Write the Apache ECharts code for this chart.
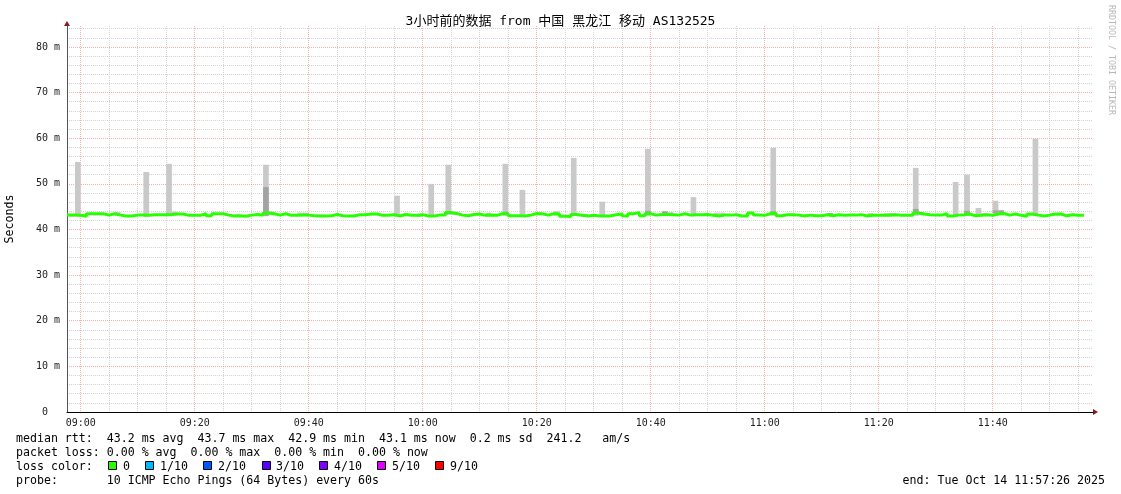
<!DOCTYPE html>
<html><head><meta charset="utf-8">
<script src="https://cdn.jsdelivr.net/npm/echarts@6/dist/echarts.min.js"></script>
<style>html,body{margin:0;padding:0;background:#fff}#c{width:1121px;height:494px}</style>
</head><body><div id="c"></div>
<script>
// time in minutes after 09:00; each bucket covers [t-1, t]
const X_MIN = -2.4, X_MAX = 177.6, Y_MAX = 84.6;
const FIRST_BUCKET_END = -2;
const medianRtt = [
  43.15,43.15,43.1,42.9,43.45,43.45,43.45,43.15,43.45,43.15,
  42.95,42.95,43.15,43.15,43.1,43.25,43.25,43.25,43.3,43.4,
  43.4,43.1,43.1,43.1,43.45,43.0,43.45,43.45,43.15,42.95,
  43.0,42.9,43.15,43.3,43.15,43.6,43.45,43.15,43.45,43.1,
  43.1,43.15,43.15,43.0,42.95,42.95,43.0,43.3,43.0,42.95,
  42.95,43.25,43.25,43.4,43.4,43.1,43.1,43.25,42.95,43.3,
  43.1,43.1,43.25,42.95,42.95,43.15,43.15,43.7,43.5,43.15,
  43.0,43.3,43.4,43.1,43.15,43.1,43.45,43.45,43.0,43.0,
  42.95,43.15,43.5,43.45,43.15,43.45,43.4,42.9,42.85,43.3,
  43.1,42.95,43.1,42.95,42.95,43.0,43.25,43.4,42.95,43.45,
  43.7,43.0,43.45,43.15,43.3,43.3,43.25,43.15,43.45,43.15,
  43.25,43.25,43.3,43.1,42.95,43.15,43.15,43.25,42.95,42.95,
  43.6,43.15,43.1,43.45,43.6,43.0,43.25,43.25,43.15,42.95,
  43.15,43.0,43.0,43.25,43.0,43.25,43.1,43.15,43.15,43.25,
  42.95,43.1,43.1,43.1,43.1,43.25,43.1,43.1,43.1,43.6,
  43.4,43.25,43.15,43.15,43.45,42.95,43.15,43.25,43.4,43.0,
  43.1,43.25,43.1,43.4,43.5,43.15,43.4,43.1,42.9,43.4,
  43.15,42.95,43.15,43.4,43.4,43.0,43.25,43.1,43.1
];
// [bucket end, min ping, max ping]
const smokeBands = [
  [-1,42.8,43.4],[0,42.85,54.8],[7,43.0,43.8],[12,42.7,52.6],[16,42.9,54.4],[17,43.1,43.9],
  [28,42.8,43.3],[33,42.9,54.2],[34,43.1,43.9],[39,42.9,43.7],[40,42.9,43.7],[42,42.8,43.3],
  [43,42.8,43.3],[51,43.1,43.6],[52,43.1,43.6],[56,42.8,47.4],[60,42.75,43.4],[62,42.8,50.0],
  [65,43.2,54.2],[66,43.2,43.9],[72,42.9,43.7],[75,43.0,54.4],[78,42.8,48.7],[84,43.1,44.0],
  [87,43.0,55.7],[88,42.9,43.4],[89,42.8,43.4],[92,42.75,46.1],[100,43.0,57.7],[104,43.1,43.8],
  [108,42.9,47.1],[112,42.8,43.7],[113,42.9,43.7],[122,43.0,57.9],[124,43.0,43.4],[125,43.0,43.4],
  [128,42.9,43.4],[139,42.9,43.6],[142,42.9,43.6],[143,42.9,43.6],[147,43.0,53.5],[148,43.1,43.8],
  [154,42.9,50.4],[156,42.9,52.0],[158,42.9,44.7],[159,42.9,43.6],[161,43.0,46.3],[162,43.2,44.2],
  [167,43.0,43.6],[168,42.9,59.9],[171,43.0,43.6],[172,43.0,43.6]
];
// inner (darker) smoke bands
const darkBands = [
  [33,43.0,49.3],[75,43.3,43.9],[100,43.4,44.1],[103,43.5,44.0],[122,43.4,44.0],
  [132,43.2,43.6],[147,43.3,44.5],[156,43.3,44.1],[161,43.6,44.2],[162,43.5,44.2]
];
const xMajorTicks = [0,20,40,60,80,100,120,140,160];
const xTickLabels = ['09:00','09:20','09:40','10:00','10:20','10:40','11:00','11:20','11:40'];
const xMinorTicks = [5,10,15,25,30,35,45,50,55,65,70,75,85,90,95,105,110,115,125,130,135,145,150,155,165,170,175];
const yMajorTicks = [0,10,20,30,40,50,60,70,80];
const yMinorTicks = [2,4,6,8,12,14,16,18,22,24,26,28,32,34,36,38,42,44,46,48,52,54,56,58,62,64,66,68,72,74,76,78,82,84];

const titleText = '3小时前的数据 from 中国 黑龙江 移动 AS132525';
const statLines = [
  'median rtt:  43.2 ms avg  43.7 ms max  42.9 ms min  43.1 ms now  0.2 ms sd  241.2   am/s',
  'packet loss: 0.00 % avg  0.00 % max  0.00 % min  0.00 % now',
  'loss color:',
  'probe:       10 ICMP Echo Pings (64 Bytes) every 60s'
];
const lossLabels = ['0','1/10','2/10','3/10','4/10','5/10','9/10'];
const lossColors = ['#26ff00','#00b8ff','#0059ff','#5e00ff','#7e00ff','#dd00ff','#ff0000'];
const endText = 'end: Tue Oct 14 11:57:26 2025';

const MONO = "'DejaVu Sans Mono','Noto Sans CJK SC',monospace";
const chart = echarts.init(document.getElementById('c'), null, {renderer:'canvas'});

function bandRenderer(color){
  return function(params, api){
    const t = api.value(0), lo = api.value(1), hi = api.value(2);
    const a = api.coord([t-1, hi]), b = api.coord([t, lo]);
    return {type:'rect', shape:{x:a[0], y:a[1], width:b[0]-a[0], height:b[1]-a[1]}, style:{fill:color}};
  };
}
const medianData = [[X_MIN, medianRtt[0]]].concat(medianRtt.map((v,i)=>[FIRST_BUCKET_END+i, v]));

const gridDash = [1,1];
const legendX = [108,145,203,262,319,377,435];
const legendLabelX = [123,160,218,276,334,392,450];
const graphics = [];
statLines.forEach((s,i)=>{
  graphics.push({type:'text', x:16, y:438.5+14*i, style:{text:s, font:'11.6px '+MONO, fill:'#000', textVerticalAlign:'middle'}});
});
lossLabels.forEach((l,i)=>{
  graphics.push({type:'rect', shape:{x:legendX[i]+0.5, y:461.5, width:8, height:8}, style:{fill:lossColors[i], stroke:'#000', lineWidth:1}});
  graphics.push({type:'text', x:legendLabelX[i], y:466.5, style:{text:l, font:'11.6px '+MONO, fill:'#000', textVerticalAlign:'middle'}});
});
graphics.push({type:'text', x:1105, y:480.5, style:{text:endText, font:'11.6px '+MONO, fill:'#000', textAlign:'right', textVerticalAlign:'middle'}});
graphics.push({type:'text', x:10, y:219, rotation:Math.PI/2, style:{text:'Seconds', font:'11.6px '+MONO, fill:'#000', textAlign:'center', textVerticalAlign:'middle'}});
graphics.push({type:'text', x:1111, y:60, rotation:-Math.PI/2, style:{text:'RRDTOOL / TOBI OETIKER', font:'8.3px '+MONO, fill:'#b8b8b8', textAlign:'center', textVerticalAlign:'middle'}});

const option = {
  animation:false,
  backgroundColor:'#fff',
  title:{text:titleText, left:'center', top:15, padding:0, textStyle:{fontFamily:MONO, fontSize:13, fontWeight:'normal', color:'#000'}},
  grid:{left:67, right:28, top:26, bottom:82, containLabel:false},
  xAxis:[
    {type:'value', min:X_MIN, max:X_MAX, z:1, position:'bottom',
     axisLine:{show:true, onZero:false, lineStyle:{color:'#000', width:1}},
     axisTick:{show:false, customValues:xMajorTicks},
     axisLabel:{show:true, customValues:xMajorTicks, margin:6, color:'#222', fontFamily:MONO, fontSize:10,
       formatter:v=>{const k=xMajorTicks.indexOf(v); return k>=0?xTickLabels[k]:'';}},
     splitLine:{show:true, lineStyle:{color:'rgba(255,90,90,0.5)', width:1, type:gridDash}}},
    {type:'value', min:X_MIN, max:X_MAX, z:0, position:'bottom',
     axisLine:{show:false}, axisTick:{show:false, customValues:xMinorTicks}, axisLabel:{show:false},
     splitLine:{show:true, lineStyle:{color:'#d4d4d4', width:1, type:gridDash}}}
  ],
  yAxis:[
    {type:'value', min:0, max:Y_MAX, z:1,
     axisLine:{show:true, onZero:false, lineStyle:{color:'#555', width:1}},
     axisTick:{show:false, customValues:yMajorTicks},
     axisLabel:{show:true, customValues:yMajorTicks, margin:7, color:'#222', fontFamily:MONO, fontSize:10,
       formatter:v=> v===0 ? '0\u00a0\u00a0' : v+' m'},
     splitLine:{show:true, lineStyle:{color:'rgba(255,90,90,0.5)', width:1, type:gridDash}}},
    {type:'value', min:0, max:Y_MAX, z:0,
     axisLine:{show:false}, axisTick:{show:false, customValues:yMinorTicks}, axisLabel:{show:false},
     splitLine:{show:true, lineStyle:{color:'#d4d4d4', width:1, type:gridDash}}}
  ],
  series:[
    {type:'custom', name:'smoke', xAxisIndex:0, yAxisIndex:0, z:3, clip:true, renderItem:bandRenderer('#c9c9c9'),
     encode:{x:0, y:[1,2]}, data:smokeBands},
    {type:'custom', name:'smokeInner', xAxisIndex:0, yAxisIndex:0, z:4, clip:true, renderItem:bandRenderer('#a3a3a3'),
     encode:{x:0, y:[1,2]}, data:darkBands},
    {type:'line', name:'median', xAxisIndex:0, yAxisIndex:0, z:5, step:'start', symbol:'none', clip:true,
     lineStyle:{color:'#26ff00', width:3}, data:medianData}
  ],
  graphic:graphics
};
chart.setOption(option);

// axis arrows
const pTop = chart.convertToPixel({xAxisIndex:0, yAxisIndex:0}, [X_MIN, Y_MAX]);
const pRight = chart.convertToPixel({xAxisIndex:0, yAxisIndex:0}, [X_MAX, 0]);
chart.setOption({graphic: graphics.concat([
  {type:'polygon', shape:{points:[[pTop[0], pTop[1]-5],[pTop[0]-3, pTop[1]],[pTop[0]+3, pTop[1]]]}, style:{fill:'#8b1a1a'}},
  {type:'polygon', shape:{points:[[pRight[0]+5, pRight[1]],[pRight[0], pRight[1]-3],[pRight[0], pRight[1]+3]]}, style:{fill:'#8b1a1a'}}
])});
</script></body></html>
